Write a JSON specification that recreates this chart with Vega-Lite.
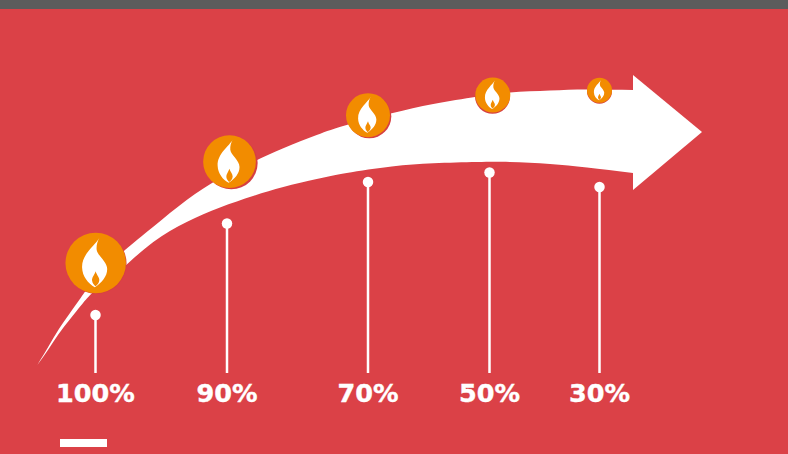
{"$schema":"https://vega.github.io/schema/vega-lite/v6.json","width":788,"height":454,"padding":0,"autosize":"none","background":"#DB4147","view":{"stroke":null},"config":{"axis":{"disable":true},"legend":{"disable":true}},
"datasets":{
"arrow":[{"part":"body","x":37.3,"top":365,"bottom":365},{"part":"body","x":48.3,"top":346.7,"bottom":349.5},{"part":"body","x":58.3,"top":330,"bottom":334.4},{"part":"body","x":70,"top":313,"bottom":319.2},{"part":"body","x":81,"top":297.5,"bottom":305.6},{"part":"body","x":91.7,"top":283.5,"bottom":293.5},{"part":"body","x":110,"top":264.5,"bottom":278},{"part":"body","x":125,"top":250,"bottom":266},{"part":"body","x":153.3,"top":226.7,"bottom":242},{"part":"body","x":186.7,"top":200,"bottom":222},{"part":"body","x":220,"top":178.5,"bottom":207.5},{"part":"body","x":253,"top":162,"bottom":196},{"part":"body","x":283.3,"top":148.3,"bottom":187},{"part":"body","x":316.7,"top":135,"bottom":179},{"part":"body","x":346.7,"top":125,"bottom":173},{"part":"body","x":391.7,"top":113.3,"bottom":166.5},{"part":"body","x":433.3,"top":104,"bottom":163.3},{"part":"body","x":476.7,"top":96.7,"bottom":162},{"part":"body","x":510,"top":92.5,"bottom":162},{"part":"body","x":550,"top":90.5,"bottom":164},{"part":"body","x":587,"top":89.5,"bottom":167.5},{"part":"body","x":633,"top":90,"bottom":173},{"part":"head","x":633,"top":75,"bottom":190},{"part":"head","x":702,"top":132,"bottom":132}],
"levels":[{"label":"100%","level":100,"x":95.5,"dot":315,"base":373,"bx":95.7,"by":263,"rx":96.3,"ry":263.5},{"label":"90%","level":90,"x":227,"dot":223.5,"base":373,"bx":229.5,"by":161.7,"rx":231.3,"ry":163},{"label":"70%","level":70,"x":368,"dot":182,"base":373,"bx":368,"by":115.2,"rx":369.3,"ry":116.3},{"label":"50%","level":50,"x":489.5,"dot":172.5,"base":373,"bx":492.8,"by":95,"rx":492.5,"ry":96.3},{"label":"30%","level":30,"x":599.5,"dot":187,"base":373,"bx":599.5,"by":90.3,"rx":599.5,"ry":91.2}],
"bars":[{"name":"top","x":0,"x2":788,"y":0,"y2":9},{"name":"underline","x":60,"x2":107,"y":439,"y2":447}]
},
"layer":[
{"data":{"name":"bars"},"mark":{"type":"rect"},"encoding":{"x":{"field":"x","type":"quantitative","scale":{"domain":[0,788],"nice":false,"zero":false}},"x2":{"field":"x2"},"y":{"field":"y","type":"quantitative","scale":{"domain":[0,454],"reverse":true,"nice":false,"zero":false}},"y2":{"field":"y2"},"color":{"field":"name","type":"nominal","scale":{"domain":["top","underline"],"range":["#5C5C5C","#FFFFFF"]}}}},
{"data":{"name":"arrow"},"mark":{"type":"area","fill":"#FFFFFF","interpolate":"natural"},"encoding":{"x":{"field":"x","type":"quantitative"},"y":{"field":"top","type":"quantitative"},"y2":{"field":"bottom"},"detail":{"field":"part"}}},
{"data":{"name":"levels"},"mark":{"type":"rule","stroke":"#FFFFFF","strokeWidth":2.5},"encoding":{"x":{"field":"x","type":"quantitative"},"y":{"field":"dot","type":"quantitative"},"y2":{"field":"base"}}},
{"data":{"name":"levels"},"mark":{"type":"point","shape":"circle","filled":true,"fill":"#FFFFFF","opacity":1,"size":110},"encoding":{"x":{"field":"x","type":"quantitative"},"y":{"field":"dot","type":"quantitative"}}},
{"data":{"name":"levels"},"mark":{"type":"point","shape":"circle","filled":true,"fill":"#D63F42","opacity":1},"encoding":{"x":{"field":"rx","type":"quantitative"},"y":{"field":"ry","type":"quantitative"},"size":{"field":"level","type":"quantitative","scale":{"type":"linear","zero":false,"domain":[30,50,70,90,100],"range":[625,1225,1936,2777,3660]}}}},
{"data":{"name":"levels"},"mark":{"type":"point","shape":"circle","filled":true,"fill":"#F28C00","opacity":1},"encoding":{"x":{"field":"bx","type":"quantitative"},"y":{"field":"by","type":"quantitative"},"size":{"field":"level","type":"quantitative","scale":{"type":"linear","zero":false,"domain":[30,50,70,90,100],"range":[433,930,1722,2381,3516]}}}},
{"data":{"name":"levels"},"mark":{"type":"point","shape":"M0.12,-0.83 C0.0,-0.6 -0.47,-0.3 -0.45,0.15 C-0.44,0.45 -0.25,0.68 -0.03,0.8 C0.2,0.65 0.38,0.45 0.38,0.2 C0.38,-0.05 0.05,-0.25 0.03,-0.45 C0.02,-0.6 0.06,-0.72 0.12,-0.83Z","filled":true,"fill":"#FFFFFF","opacity":1,"strokeWidth":0},"encoding":{"x":{"field":"bx","type":"quantitative"},"y":{"field":"by","type":"quantitative"},"size":{"field":"level","type":"quantitative","scale":{"type":"linear","zero":false,"domain":[30,50,70,90,100],"range":[433,930,1722,2381,3516]}}}},
{"data":{"name":"levels"},"mark":{"type":"point","shape":"M0,0.27 C-0.05,0.4 -0.13,0.48 -0.12,0.58 C-0.11,0.68 -0.05,0.73 -0.01,0.77 C0.05,0.72 0.12,0.66 0.12,0.56 C0.12,0.46 0.03,0.4 0,0.27Z","filled":true,"fill":"#F28C00","opacity":1,"strokeWidth":0},"encoding":{"x":{"field":"bx","type":"quantitative"},"y":{"field":"by","type":"quantitative"},"size":{"field":"level","type":"quantitative","scale":{"type":"linear","zero":false,"domain":[30,50,70,90,100],"range":[433,930,1722,2381,3516]}}}},
{"data":{"name":"levels"},"mark":{"type":"text","font":"DejaVu Sans","fontWeight":"bold","fontSize":25.5,"fill":"#FFFFFF","stroke":"#FFFFFF","strokeWidth":0.4,"align":"center","baseline":"middle"},"encoding":{"x":{"field":"x","type":"quantitative"},"y":{"datum":394,"type":"quantitative"},"text":{"field":"label","type":"nominal"}}}
]}
